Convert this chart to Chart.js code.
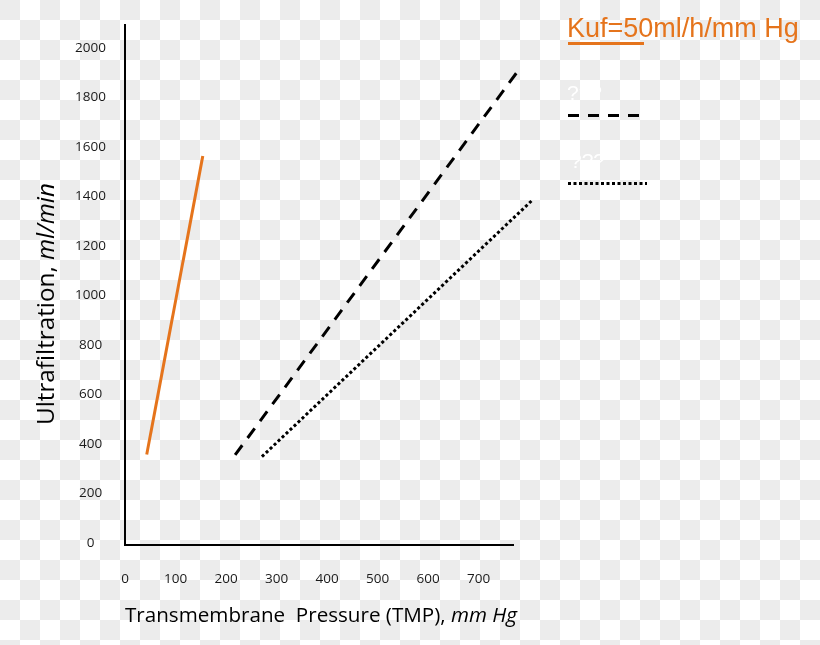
<!DOCTYPE html>
<html lang="en">
<head>
    <meta charset="UTF-8">
    <title>Ultrafiltration vs TMP</title>
    <script src="https://cdn.jsdelivr.net/npm/chart.js"></script>
    <style>
        body { margin: 0; }
        #wrap {
            width: 820px; height: 645px;
            background-color: #fff;
            background-image: conic-gradient(#fff 25%, #ececec 0 50%, #fff 0 75%, #ececec 0);
            background-size: 40px 40px;
        }
    </style>
</head>
<body>
    <div id="wrap">
        <canvas id="ufChart" width="820" height="645"></canvas>
    </div>

    <script>
        // values (TMP in mm Hg, UF in ml/min)
        const kufTmp = [43, 154];
        const kufUf = [358, 1564];
        const dashTmp = [218, 778];
        const dashUf = [356, 1908];
        const dotTmp = [271, 805];
        const dotUf = [349, 1383];

        const xTicks = [0, 100, 200, 300, 400, 500, 600, 700];
        const yTicks = [0, 200, 400, 600, 800, 1000, 1200, 1400, 1600, 1800, 2000];

        const legendLabels = ['Kuf=50ml/h/mm Hg', '???', '???'];
        const xTitle = [['Transmembrane  Pressure (TMP), ', false], ['mm Hg', true]];
        const yTitle = [['Ultrafiltration, ', false], ['ml/min', true]];

        const ORANGE = '#e5741c';
        const FONT = '"Open Sans", sans-serif';

        const toPoints = (xs, ys) => xs.map((x, i) => ({ x: x, y: ys[i] }));

        // draws a text made of normal / italic parts, scaled to a given width
        function drawMixed(ctx, parts, x, y, width) {
            let base = 20;
            let total = 0;
            parts.forEach(p => {
                ctx.font = (p[1] ? 'italic ' : '') + base + 'px ' + FONT;
                total += ctx.measureText(p[0]).width;
            });
            const size = base * width / total;
            let cx = x - width / 2;
            ctx.textAlign = 'left';
            ctx.textBaseline = 'middle';
            parts.forEach(p => {
                ctx.font = (p[1] ? 'italic ' : '') + size + 'px ' + FONT;
                ctx.fillText(p[0], cx, y);
                cx += ctx.measureText(p[0]).width;
            });
        }

        const extrasPlugin = {
            id: 'extras',
            afterDraw(chart) {
                const ctx = chart.ctx;
                ctx.save();
                ctx.fillStyle = '#000';
                drawMixed(ctx, xTitle, 321, 616, 392);

                ctx.save();
                ctx.translate(47, 304);
                ctx.rotate(-Math.PI / 2);
                drawMixed(ctx, yTitle, 0, 0, 242);
                ctx.restore();

                // legend
                ctx.textAlign = 'left';
                ctx.textBaseline = 'alphabetic';
                ctx.font = '27px "Liberation Sans", Arial, sans-serif';
                ctx.fillStyle = ORANGE;
                ctx.fillText(legendLabels[0], 567, 37);
                ctx.strokeStyle = ORANGE;
                ctx.lineWidth = 3;
                ctx.beginPath();
                ctx.moveTo(568, 43.5);
                ctx.lineTo(644, 43.5);
                ctx.stroke();

                ctx.font = '21px "Liberation Sans", Arial, sans-serif';
                ctx.fillStyle = '#fff';
                ctx.fillText(legendLabels[1], 567, 100);
                ctx.fillText(legendLabels[2], 570, 168);

                ctx.strokeStyle = '#000';
                ctx.setLineDash([11, 9]);
                ctx.beginPath();
                ctx.moveTo(568, 115.5);
                ctx.lineTo(642, 115.5);
                ctx.stroke();

                ctx.setLineDash([3, 2.5]);
                ctx.beginPath();
                ctx.moveTo(568, 183.5);
                ctx.lineTo(647, 183.5);
                ctx.stroke();
                ctx.restore();
            }
        };

        new Chart(document.getElementById('ufChart'), {
            type: 'scatter',
            data: {
                datasets: [
                    {
                        label: legendLabels[0],
                        data: toPoints(kufTmp, kufUf),
                        showLine: true,
                        borderColor: ORANGE,
                        borderWidth: 3,
                        pointRadius: 0,
                        clip: false
                    },
                    {
                        label: legendLabels[1],
                        data: toPoints(dashTmp, dashUf),
                        showLine: true,
                        borderColor: '#000',
                        borderWidth: 3,
                        borderDash: [12, 9],
                        pointRadius: 0,
                        clip: false
                    },
                    {
                        label: legendLabels[2],
                        data: toPoints(dotTmp, dotUf),
                        showLine: true,
                        borderColor: '#000',
                        borderWidth: 3,
                        borderDash: [3, 2.5],
                        pointRadius: 0,
                        clip: false
                    }
                ]
            },
            options: {
                responsive: false,
                animation: false,
                devicePixelRatio: 1,
                layout: { padding: { left: 0, right: 307, top: 25, bottom: 0 } },
                plugins: {
                    legend: { display: false },
                    tooltip: { enabled: false }
                },
                scales: {
                    x: {
                        type: 'linear',
                        min: 0,
                        max: 768,
                        afterBuildTicks: s => { s.ticks = xTicks.map(v => ({ value: v })); },
                        afterFit: s => { s.height = 100; },
                        grid: { display: false },
                        border: { display: true, color: '#000', width: 2 },
                        ticks: {
                            color: '#1a1a1a',
                            font: { family: FONT, size: 13.5 },
                            padding: 18,
                            maxRotation: 0,
                            callback: v => String(v)
                        }
                    },
                    y: {
                        type: 'linear',
                        min: -8,
                        max: 2093,
                        afterBuildTicks: s => { s.ticks = yTicks.map(v => ({ value: v })); },
                        afterFit: s => { s.width = 125; },
                        grid: { display: false },
                        border: { display: true, color: '#000', width: 2 },
                        ticks: {
                            color: '#1a1a1a',
                            font: { family: FONT, size: 13.5 },
                            padding: 11,
                            crossAlign: 'center',
                            callback: v => String(v)
                        }
                    }
                }
            },
            plugins: [extrasPlugin]
        });
    </script>
</body>
</html>
